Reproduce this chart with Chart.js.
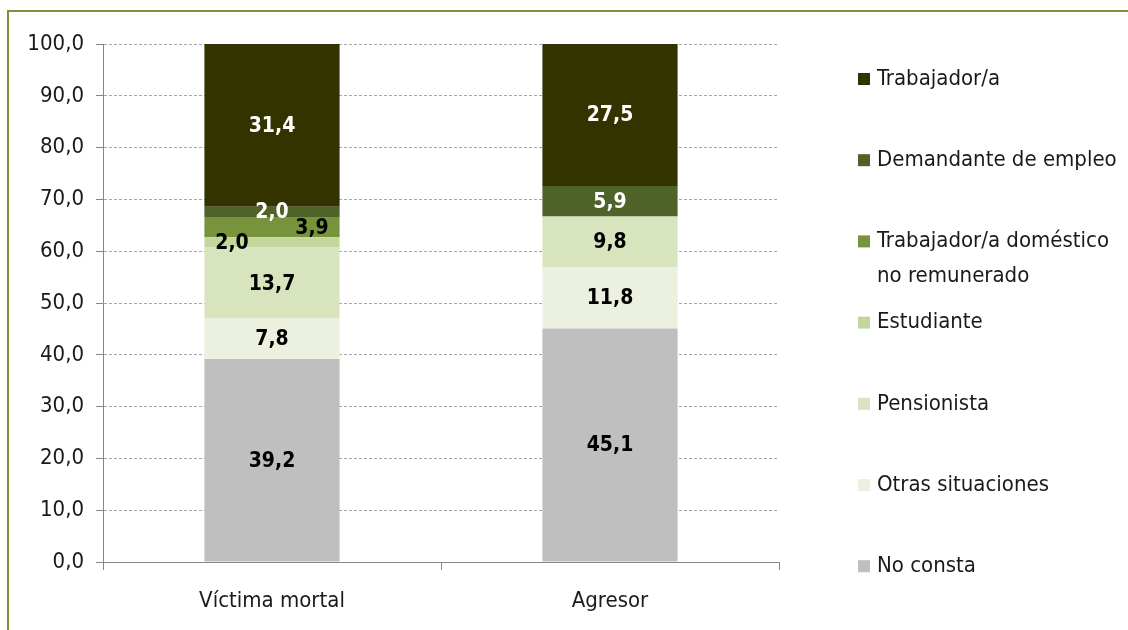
<!DOCTYPE html>
<html>
<head>
<meta charset="utf-8">
<script src="https://cdn.jsdelivr.net/npm/chart.js@4/dist/chart.umd.min.js"></script>
<style>
html,body{margin:0;padding:0;background:#fff;}
#wrap{position:relative;width:1128px;height:630px;}
#frame{position:absolute;left:7px;top:10px;width:1200px;height:700px;border-left:2px solid #77933C;border-top:2px solid #77933C;box-sizing:border-box;}
canvas{position:absolute;left:0;top:0;}
</style>
</head>
<body>
<div id="wrap">
<div id="frame"></div>
<canvas id="c" width="1128" height="630"></canvas>
</div>
<script>
const categories = ["Víctima mortal", "Agresor"];
const seriesNames = ["No consta", "Otras situaciones", "Pensionista", "Estudiante", "Trabajador/a doméstico no remunerado", "Demandante de empleo", "Trabajador/a"];
const noConsta = [39.2, 45.1];
const otrasSituaciones = [7.8, 11.8];
const pensionista = [13.7, 9.8];
const estudiante = [2.0, 0];
const domestico = [3.9, 0];
const demandante = [2.0, 5.9];
const trabajador = [31.4, 27.5];
const yTicks = [0, 10, 20, 30, 40, 50, 60, 70, 80, 90, 100];

const colors = ["#BFBFBF", "#EBF1DE", "#D7E4BD", "#C3D69B", "#77933C", "#4F6228", "#333300"];
const labelColors = ["#000", "#000", "#000", "#000", "#000", "#fff", "#fff"];
// horizontal offset of data labels (px) to avoid overlap, per dataset per category
const labelShift = [[0,0],[0,0],[0,0],[-40,0],[40,0],[0,0],[0,0]];
const legendLines = [["Trabajador/a"], ["Demandante de empleo"], ["Trabajador/a doméstico", "no remunerado"], ["Estudiante"], ["Pensionista"], ["Otras situaciones"], ["No consta"]];

const FONT = "'Liberation Sans Narrow','DejaVu Sans Condensed','Open Sans',sans-serif";
const values = [noConsta, otrasSituaciones, pensionista, estudiante, domestico, demandante, trabajador];
const fmt = v => v.toFixed(1).replace('.', ',');

const datasets = values.map((arr, i) => ({
  label: seriesNames[i],
  data: arr,
  backgroundColor: colors[i],
  borderWidth: 0,
  barPercentage: 0.4,
  categoryPercentage: 1.0
}));

const labelPlugin = {
  id: 'labels',
  afterDatasetsDraw(chart) {
    const ctx = chart.ctx;
    ctx.save();
    ctx.font = "bold 21px " + FONT;
    ctx.textAlign = 'center';
    ctx.textBaseline = 'middle';
    chart.data.datasets.forEach((ds, i) => {
      const meta = chart.getDatasetMeta(i);
      meta.data.forEach((bar, j) => {
        const v = ds.data[j];
        if (!v) return;
        const y = (bar.y + bar.base) / 2;
        ctx.fillStyle = labelColors[i];
        ctx.fillText(fmt(v), bar.x + labelShift[i][j], y + 1);
      });
    });
    ctx.restore();
  }
};

const legendPlugin = {
  id: 'customLegend',
  afterDraw(chart) {
    const ctx = chart.ctx;
    ctx.save();
    ctx.font = "22px " + FONT;
    ctx.textBaseline = 'middle';
    ctx.textAlign = 'left';
    const order = [6, 5, 4, 3, 2, 1, 0];
    order.forEach((di, k) => {
      const y = 79 + k * 81.2;
      ctx.fillStyle = colors[di];
      ctx.fillRect(858, y - 6, 12, 12);
      ctx.fillStyle = '#1a1a1a';
      legendLines[k].forEach((line, li) => {
        ctx.fillText(line, 877, y + li * 35);
      });
    });
    ctx.restore();
  }
};

new Chart(document.getElementById('c'), {
  type: 'bar',
  data: { labels: categories, datasets },
  options: {
    responsive: false,
    animation: false,
    layout: { padding: { left: 0, right: 349, top: 44, bottom: 0 } },
    plugins: { legend: { display: false }, tooltip: { enabled: false } },
    scales: {
      x: {
        stacked: true,
        offset: true,
        grid: { display: true, drawOnChartArea: false, drawTicks: true, tickLength: 8, color: '#868686', offset: true },
        border: { display: true, color: '#868686', width: 1 },
        ticks: { color: '#1a1a1a', font: { family: FONT, size: 22 }, padding: 18 },
        afterFit: s => { s.height = 68; }
      },
      y: {
        stacked: true,
        min: 0,
        max: 100,
        afterBuildTicks: s => { s.ticks = yTicks.map(v => ({ value: v })); },
        grid: { color: '#A6A6A6', tickLength: 7, tickBorderDash: [], tickColor: '#868686' },
        border: { display: true, color: '#868686', width: 1, dash: [3, 2] },
        ticks: { color: '#1a1a1a', font: { family: FONT, size: 22 }, padding: 12, callback: v => fmt(v) },
        afterFit: s => { s.width = 103; }
      }
    }
  },
  plugins: [labelPlugin, legendPlugin]
});
</script>
</body>
</html>
